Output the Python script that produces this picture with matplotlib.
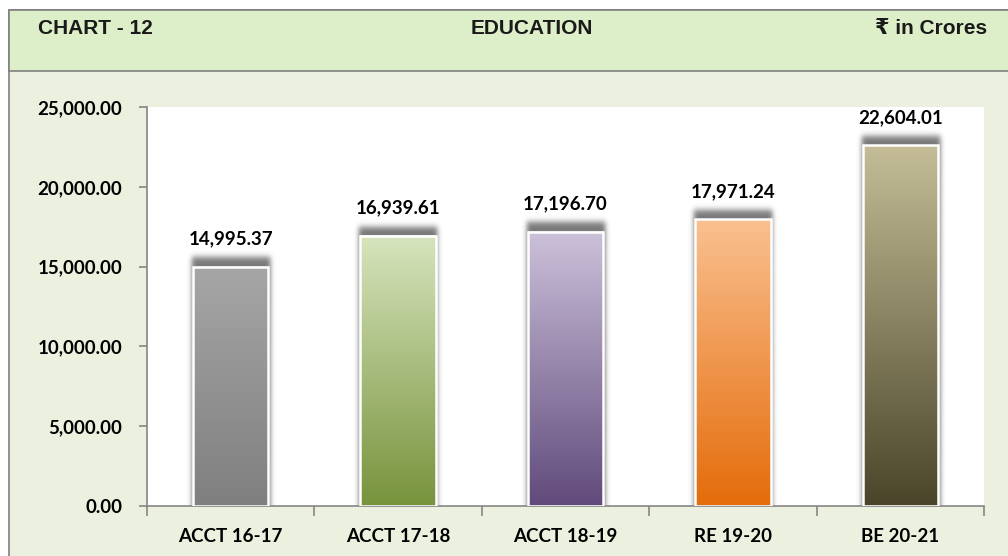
import math

import matplotlib.pyplot as plt
import numpy as np
from matplotlib.patches import Rectangle
from matplotlib.colors import to_rgb
from matplotlib.ticker import FuncFormatter, FixedLocator

# data
categories = ["ACCT 16-17", "ACCT 17-18", "ACCT 18-19", "RE 19-20", "BE 20-21"]
values = [14995.37, 16939.61, 17196.70, 17971.24, 22604.01]
top_colors = ["#A6A6A6", "#D7E4BD", "#CCC1DA", "#FAC090", "#C4BD97"]
bottom_colors = ["#7F7F7F", "#77933C", "#604A7B", "#E46C0A", "#4A452A"]

W, H = 1008, 556
fig = plt.figure(figsize=(W / 100, H / 100), dpi=100)
fig.patch.set_facecolor("white")


# background panels (pixel coordinates converted to figure fraction)
def px(x, y, w, h):
    return (x / W, 1 - (y + h) / H, w / W, h / H)


x0, y0, w0, h0 = px(9, 10, 1100, 600)
fig.patches.append(Rectangle((x0, y0), w0, h0, transform=fig.transFigure,
                             facecolor="#EBF1DE", edgecolor="#808080", lw=1.2,
                             zorder=-2))
x0, y0, w0, h0 = px(9, 10, 1100, 61)
fig.patches.append(Rectangle((x0, y0), w0, h0, transform=fig.transFigure,
                             facecolor="#DCEFC8", edgecolor="#808080", lw=1.2,
                             zorder=-1))

head_font = dict(family=["Liberation Sans", "DejaVu Sans"],
                 fontweight="bold", fontsize=15, color="#1a1a1a", va="center")
fig.text(38 / W, 1 - 28 / H, "CHART - 12", ha="left", **head_font)
fig.text(532 / W, 1 - 28 / H, "EDUCATION", ha="center", **head_font)
fig.text(987 / W, 1 - 28 / H, "₹ in Crores", ha="right", **head_font)

ax = fig.add_axes([147 / W, (H - 506) / H, (984 - 147) / W, (506 - 107) / H])
ax.set_facecolor("white")

xpos = np.arange(len(categories))
bw = 0.45
xpx = (984 - 147) / 5.0  # pixels per category
ypx = 25000 / (506 - 107)  # data units per pixel
erf = np.vectorize(math.erf)

for i, (v, c1, c2) in enumerate(zip(values, top_colors, bottom_colors)):
    left = xpos[i] - bw / 2
    # soft shadow, built in pixel space and blurred
    wpx = bw * xpx
    hpx = v / ypx
    m = 14
    xs = np.arange(-m, wpx + m, 0.5)
    ys = np.arange(0, hpx + 24, 0.5)
    sx, sy = 2.4, 3.0
    a_x = 0.5 * (erf((xs + 1.5) / (sx * 1.414)) - erf((xs - wpx - 1.5) / (sx * 1.414)))
    a_y = 0.5 * (1 - erf((ys - (hpx + 9)) / (sy * 1.414)))
    alpha = np.outer(a_y, a_x) * 0.75
    shadow = np.zeros(alpha.shape + (4,))
    shadow[..., :3] = 0.3
    shadow[..., 3] = alpha
    ax.imshow(shadow, extent=[left - m / xpx, left + bw + m / xpx, 0, ys[-1] * ypx],
              origin="lower", aspect="auto", zorder=1, interpolation="bilinear")
    # gradient fill
    t = np.linspace(0, 1, 256)[:, None]
    a = np.array(to_rgb(c1))
    b = np.array(to_rgb(c2))
    grad = (a * (1 - t) + b * t)[:, None, :].repeat(2, axis=1)
    ax.imshow(grad, extent=[left, left + bw, 0, v], origin="upper",
              aspect="auto", zorder=2, interpolation="bilinear")
    ax.add_patch(Rectangle((left, 0), bw, v, facecolor="none",
                           edgecolor="white", lw=1.8, zorder=3))
    ax.text(xpos[i], v + 22 * ypx, f"{v:,.2f}", ha="center", va="baseline",
            fontsize=13.5, fontweight="bold", family="Lato", color="black")

ax.set_xlim(-0.5, 4.5)
ax.set_ylim(0, 25000)

for s in ["top", "right"]:
    ax.spines[s].set_visible(False)
for s in ["left", "bottom"]:
    ax.spines[s].set_color("#868686")
    ax.spines[s].set_linewidth(1.2)

ax.set_yticks(np.arange(0, 25001, 5000))
ax.yaxis.set_major_formatter(FuncFormatter(lambda v, p: f"{v:,.2f}"))
ax.tick_params(axis="y", length=6, width=1.2, color="#868686", pad=12)

ax.xaxis.set_major_locator(FixedLocator(np.arange(-0.5, 4.6, 1.0)))
ax.xaxis.set_minor_locator(FixedLocator(xpos))
ax.set_xticklabels([], minor=False)
ax.set_xticklabels(categories, minor=True)
ax.tick_params(axis="x", which="major", length=7, width=1.2, color="#868686")
ax.tick_params(axis="x", which="minor", length=0, pad=16)

for lab in ax.get_yticklabels() + ax.get_xticklabels(minor=True):
    lab.set_fontfamily("Lato")
    lab.set_fontweight("bold")
    lab.set_fontsize(13.5)
    lab.set_color("black")

fig.savefig("out.png", dpi=100)
